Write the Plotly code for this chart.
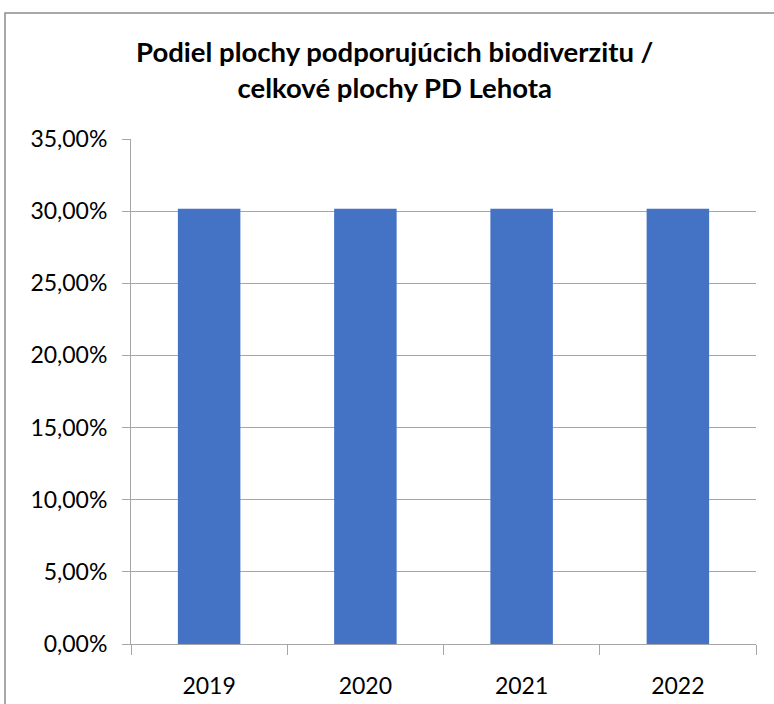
import plotly.graph_objects as go

years = ["2019", "2020", "2021", "2022"]
values = [0.3017, 0.3017, 0.3017, 0.3017]
title_text = "Podiel plochy podporujúcich biodiverzitu /<br>celkové plochy PD Lehota"

fig = go.Figure(go.Bar(x=years, y=values, marker=dict(color="#4472C4", line=dict(width=0)), width=0.4))

fig.update_layout(
    width=774, height=704,
    margin=dict(l=131, r=18, t=139, b=60),
    paper_bgcolor="white", plot_bgcolor="white",
    separators=", ",
    font=dict(family="Lato, Open Sans, sans-serif", size=23, color="#000000"),
    title=dict(text="<b>" + title_text + "</b>", x=0.51, xanchor="center", y=0.912, yanchor="top",
               font=dict(size=27.5, family="Lato, Open Sans, sans-serif", color="#000000")),
    showlegend=False,
)
fig.update_yaxes(range=[0, 0.35], dtick=0.05, tickformat=".2%", showgrid=True, gridcolor="#a6a6a6", gridwidth=1,
                 showline=True, linecolor="#a6a6a6", ticks="outside", ticklen=8, tickcolor="#a6a6a6", zeroline=False,
                 tickfont=dict(size=23), ticklabelstandoff=10, automargin=False)
fig.update_xaxes(showline=True, linecolor="#a6a6a6", ticks="outside", tickson="boundaries", ticklen=10,
                 tickcolor="#a6a6a6", tickfont=dict(size=23), ticklabelstandoff=21, automargin=False)

fig.add_shape(type="rect", xref="paper", yref="paper",
              x0=(5 - 131) / 625, x1=(790 - 131) / 625, y0=(644 - 720) / 505, y1=(644 - 13) / 505,
              line=dict(color="#8c8c8c", width=1.5), fillcolor="rgba(0,0,0,0)", layer="below")

fig.write_html("out.html", config={"displayModeBar": False},
               post_script="document.body.style.margin='0';document.body.style.overflow='hidden';")
